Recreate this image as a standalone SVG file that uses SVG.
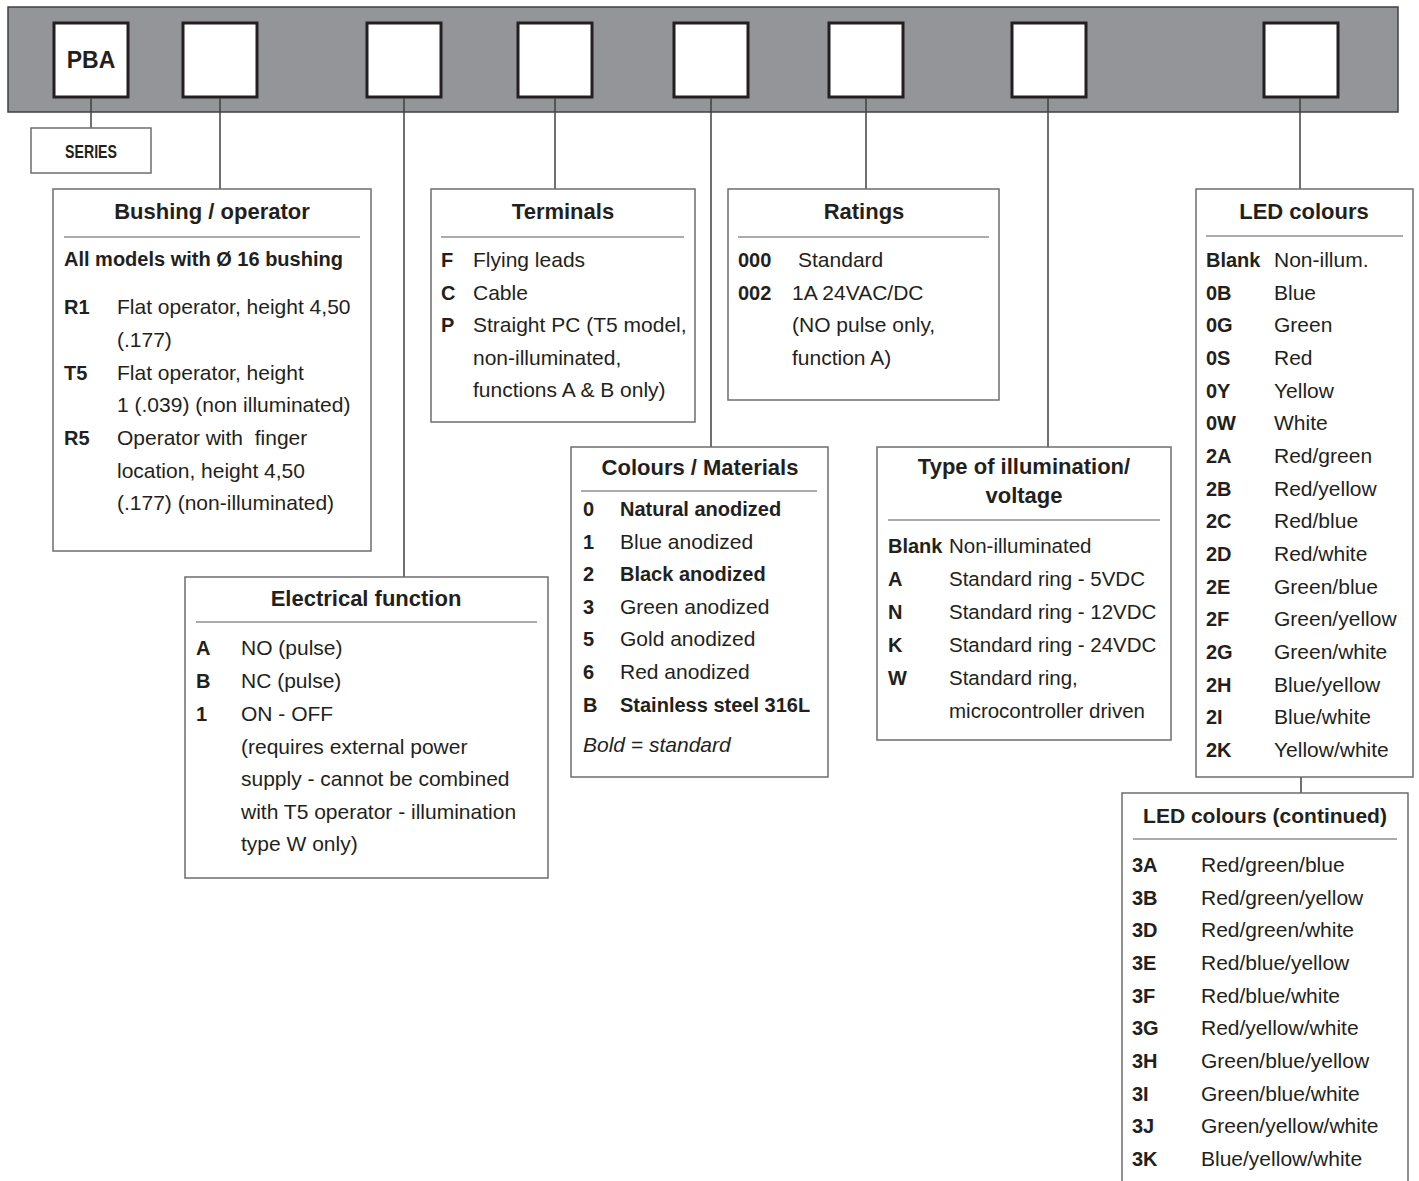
<svg xmlns="http://www.w3.org/2000/svg" width="1419" height="1181" viewBox="0 0 1419 1181">
<style>
text{font-family:"Liberation Sans",Arial,sans-serif;fill:#231f20}
.t{font-size:22px;font-weight:bold;text-anchor:middle}
.b{font-size:20px;font-weight:bold}
.r{font-size:21px}
.i{font-size:21px;font-style:italic}
.w{font-size:20.5px}
.box{fill:#fff;stroke:#6d6e71;stroke-width:1.5}
.sq{fill:#fff;stroke:#231f20;stroke-width:3}
.div{stroke:#58595b;stroke-width:1.2}
.con line{stroke:#414042;stroke-width:1.5}
</style>
<rect id="bar" x="8" y="7" width="1390" height="105" fill="#939598" stroke="#414042" stroke-width="1.5"/>
<g id="squares">
<rect class="sq" x="54" y="23" width="74" height="74"/>
<text x="91" y="68" style="font-size:23px;font-weight:bold;text-anchor:middle">PBA</text>
<rect class="sq" x="183" y="23" width="74" height="74"/>
<rect class="sq" x="367" y="23" width="74" height="74"/>
<rect class="sq" x="518" y="23" width="74" height="74"/>
<rect class="sq" x="674" y="23" width="74" height="74"/>
<rect class="sq" x="829" y="23" width="74" height="74"/>
<rect class="sq" x="1012" y="23" width="74" height="74"/>
<rect class="sq" x="1264" y="23" width="74" height="74"/>
</g>
<g id="connectors" class="con">
<line x1="91" y1="98" x2="91" y2="128"/>
<line x1="220" y1="98" x2="220" y2="189"/>
<line x1="404" y1="98" x2="404" y2="577"/>
<line x1="555" y1="98" x2="555" y2="189"/>
<line x1="711" y1="98" x2="711" y2="447"/>
<line x1="866" y1="98" x2="866" y2="189"/>
<line x1="1048" y1="98" x2="1048" y2="447"/>
<line x1="1300" y1="98" x2="1300" y2="189"/>
<line x1="1301" y1="777" x2="1301" y2="793"/>
</g>
<g id="series">
<rect class="box" x="31" y="128" width="120" height="45"/>
<text x="91" y="158" style="font-size:18px;font-weight:bold;text-anchor:middle" textLength="52" lengthAdjust="spacingAndGlyphs">SERIES</text>
</g>
<g id="bushing">
<rect class="box" x="53" y="189" width="318" height="362"/>
<text class="t" x="212" y="219">Bushing / operator</text>
<line class="div" x1="64" y1="237" x2="360" y2="237"/>
<text class="b" x="64" y="266">All models with Ø 16 bushing</text>
<text class="b" x="64" y="314">R1</text><text class="r" x="117" y="314">Flat operator, height 4,50</text>
<text class="r" x="117" y="347">(.177)</text>
<text class="b" x="64" y="380">T5</text><text class="r" x="117" y="380">Flat operator, height</text>
<text class="r" x="117" y="412">1 (.039) (non illuminated)</text>
<text class="b" x="64" y="445">R5</text><text class="r" x="117" y="445">Operator with&#160; finger</text>
<text class="r" x="117" y="478">location, height 4,50</text>
<text class="r" x="117" y="510">(.177) (non-illuminated)</text>
</g>
<g id="terminals">
<rect class="box" x="431" y="189" width="264" height="233"/>
<text class="t" x="563" y="219">Terminals</text>
<line class="div" x1="441" y1="237" x2="684" y2="237"/>
<text class="b" x="441" y="267">F</text><text class="r" x="473" y="267">Flying leads</text>
<text class="b" x="441" y="300">C</text><text class="r" x="473" y="300">Cable</text>
<text class="b" x="441" y="332">P</text><text class="r" x="473" y="332">Straight PC (T5 model,</text>
<text class="r" x="473" y="365">non-illuminated,</text>
<text class="r" x="473" y="397">functions A &amp; B only)</text>
</g>
<g id="ratings">
<rect class="box" x="728" y="189" width="271" height="211"/>
<text class="t" x="864" y="219">Ratings</text>
<line class="div" x1="738" y1="237" x2="989" y2="237"/>
<text class="b" x="738" y="267">000</text><text class="r" x="798" y="267">Standard</text>
<text class="b" x="738" y="300">002</text><text class="r" x="792" y="300">1A 24VAC/DC</text>
<text class="r" x="792" y="332">(NO pulse only,</text>
<text class="r" x="792" y="365">function A)</text>
</g>
<g id="electrical">
<rect class="box" x="185" y="577" width="363" height="301"/>
<text class="t" x="366" y="606">Electrical function</text>
<line class="div" x1="196" y1="622" x2="537" y2="622"/>
<text class="b" x="196" y="655">A</text><text class="r" x="241" y="655">NO (pulse)</text>
<text class="b" x="196" y="688">B</text><text class="r" x="241" y="688">NC (pulse)</text>
<text class="b" x="196" y="721">1</text><text class="r" x="241" y="721">ON - OFF</text>
<text class="r" x="241" y="754">(requires external power</text>
<text class="r" x="241" y="786">supply - cannot be combined</text>
<text class="r" x="241" y="819">with T5 operator - illumination</text>
<text class="r" x="241" y="851">type W only)</text>
</g>
<g id="colours">
<rect class="box" x="571" y="447" width="257" height="330"/>
<text class="t" x="700" y="475">Colours / Materials</text>
<line class="div" x1="581" y1="491" x2="817" y2="491"/>
<text class="b" x="583" y="516">0</text><text class="b" x="620" y="516">Natural anodized</text>
<text class="b" x="583" y="549">1</text><text class="r" x="620" y="549">Blue anodized</text>
<text class="b" x="583" y="581">2</text><text class="b" x="620" y="581">Black anodized</text>
<text class="b" x="583" y="614">3</text><text class="r" x="620" y="614">Green anodized</text>
<text class="b" x="583" y="646">5</text><text class="r" x="620" y="646">Gold anodized</text>
<text class="b" x="583" y="679">6</text><text class="r" x="620" y="679">Red anodized</text>
<text class="b" x="583" y="712">B</text><text class="b" x="620" y="712">Stainless steel 316L</text>
<text class="i" x="583" y="752">Bold = standard</text>
</g>
<g id="illumination">
<rect class="box" x="877" y="447" width="294" height="293"/>
<text class="t" x="1024" y="474">Type of illumination/</text>
<text class="t" x="1024" y="503">voltage</text>
<line class="div" x1="888" y1="520" x2="1160" y2="520"/>
<text class="b" x="888" y="553">Blank</text><text class="w" x="949" y="553">Non-illuminated</text>
<text class="b" x="888" y="586">A</text><text class="w" x="949" y="586">Standard ring - 5VDC</text>
<text class="b" x="888" y="619">N</text><text class="w" x="949" y="619">Standard ring - 12VDC</text>
<text class="b" x="888" y="652">K</text><text class="w" x="949" y="652">Standard ring - 24VDC</text>
<text class="b" x="888" y="685">W</text><text class="w" x="949" y="685">Standard ring,</text>
<text class="w" x="949" y="718">microcontroller driven</text>
</g>
<g id="led">
<rect class="box" x="1196" y="189" width="217" height="588"/>
<text class="t" x="1304" y="219">LED colours</text>
<line class="div" x1="1206" y1="236" x2="1403" y2="236"/>
<text class="b" x="1206" y="267">Blank</text><text class="r" x="1274" y="267">Non-illum.</text>
<text class="b" x="1206" y="300">0B</text><text class="r" x="1274" y="300">Blue</text>
<text class="b" x="1206" y="332">0G</text><text class="r" x="1274" y="332">Green</text>
<text class="b" x="1206" y="365">0S</text><text class="r" x="1274" y="365">Red</text>
<text class="b" x="1206" y="398">0Y</text><text class="r" x="1274" y="398">Yellow</text>
<text class="b" x="1206" y="430">0W</text><text class="r" x="1274" y="430">White</text>
<text class="b" x="1206" y="463">2A</text><text class="r" x="1274" y="463">Red/green</text>
<text class="b" x="1206" y="496">2B</text><text class="r" x="1274" y="496">Red/yellow</text>
<text class="b" x="1206" y="528">2C</text><text class="r" x="1274" y="528">Red/blue</text>
<text class="b" x="1206" y="561">2D</text><text class="r" x="1274" y="561">Red/white</text>
<text class="b" x="1206" y="594">2E</text><text class="r" x="1274" y="594">Green/blue</text>
<text class="b" x="1206" y="626">2F</text><text class="r" x="1274" y="626">Green/yellow</text>
<text class="b" x="1206" y="659">2G</text><text class="r" x="1274" y="659">Green/white</text>
<text class="b" x="1206" y="692">2H</text><text class="r" x="1274" y="692">Blue/yellow</text>
<text class="b" x="1206" y="724">2I</text><text class="r" x="1274" y="724">Blue/white</text>
<text class="b" x="1206" y="757">2K</text><text class="r" x="1274" y="757">Yellow/white</text>
</g>
<g id="led-continued">
<rect class="box" x="1122" y="793" width="286" height="400"/>
<text class="t" x="1265" y="823" style="font-size:21px">LED colours (continued)</text>
<line class="div" x1="1133" y1="839" x2="1397" y2="839"/>
<text class="b" x="1132" y="872">3A</text><text class="r" x="1201" y="872">Red/green/blue</text>
<text class="b" x="1132" y="905">3B</text><text class="r" x="1201" y="905">Red/green/yellow</text>
<text class="b" x="1132" y="937">3D</text><text class="r" x="1201" y="937">Red/green/white</text>
<text class="b" x="1132" y="970">3E</text><text class="r" x="1201" y="970">Red/blue/yellow</text>
<text class="b" x="1132" y="1003">3F</text><text class="r" x="1201" y="1003">Red/blue/white</text>
<text class="b" x="1132" y="1035">3G</text><text class="r" x="1201" y="1035">Red/yellow/white</text>
<text class="b" x="1132" y="1068">3H</text><text class="r" x="1201" y="1068">Green/blue/yellow</text>
<text class="b" x="1132" y="1101">3I</text><text class="r" x="1201" y="1101">Green/blue/white</text>
<text class="b" x="1132" y="1133">3J</text><text class="r" x="1201" y="1133">Green/yellow/white</text>
<text class="b" x="1132" y="1166">3K</text><text class="r" x="1201" y="1166">Blue/yellow/white</text>
</g>
</svg>
